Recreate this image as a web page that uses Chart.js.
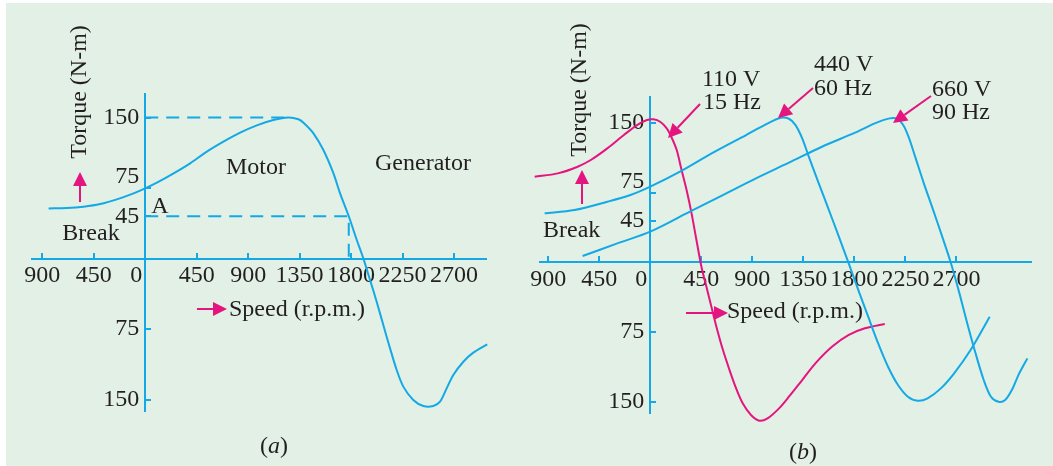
<!DOCTYPE html>
<html>
<head>
<meta charset="utf-8">
<title>Torque-speed curves</title>
<script src="https://cdn.jsdelivr.net/npm/chart.js@4.4.0/dist/chart.umd.min.js"></script>
<style>
    html, body { margin: 0; padding: 0; background: #ffffff; }
    #page { position: absolute; left: 6px; top: 3px; width: 1047px; height: 463px; background: #e2f0e5; }
    #chartA { position: absolute; left: 0; top: 0; }
    #chartB { position: absolute; left: 520px; top: 0; }
</style>
</head>
<body>
<div id="page"></div>
<canvas id="chartA" width="520" height="466"></canvas>
<canvas id="chartB" width="533" height="466"></canvas>
<script>
// Tick values (negative side shown as absolute values)
const xTicks = [-900, -450, 0, 450, 900, 1350, 1800, 2250, 2700];
const yTicks = [-150, -75, 45, 75, 150];

// (a) single torque-speed curve
const speedA = [-845, -685, -539, -393, -248, -102, 0, 102, 248, 393, 539, 684, 830, 976, 1121, 1250, 1340, 1384, 1471, 1558, 1646, 1704, 1780, 1850, 1908, 1966, 2024, 2082, 2141, 2199, 2257, 2344, 2432, 2519, 2578, 2636, 2694, 2782, 2869, 2991];
const torqueA = [53.4, 53.8, 55.2, 58, 63, 69.4, 74.7, 80.7, 90.6, 101.3, 113.7, 124.3, 133.9, 141.7, 147.3, 150, 148.1, 144.5, 133.2, 115.4, 90.6, 69.4, 45, 19.8, 0, -22.7, -45.8, -70.6, -95.4, -118.4, -136.1, -150.3, -156.7, -156.7, -152.1, -137.9, -123.7, -109.6, -100, -91.1];

// dashed guide lines in (a)
const peakSpeed = [0, 1250];
const peakTorque = [150, 150];
const pointASpeed = [0, 1780, 1780];
const pointATorque = [45, 45, 0];

// (b) 110 V / 15 Hz
const speed110 = [-1020, -816, -641, -525, -379, -233, -117, -29, 29, 87, 145, 189, 233, 276, 320, 364, 407, 451, 495, 539, 583, 641, 699, 757, 815, 888, 961, 1034, 1136, 1223, 1340, 1456, 1602, 1747, 1893, 2068];
const torque110 = [92.2, 95.8, 103, 110.2, 122.7, 137.1, 147.8, 153.2, 154, 151.4, 144.3, 134.2, 120.9, 99.4, 77.9, 52.8, 24.1, -4.6, -26.1, -47.6, -69.1, -94.3, -115.8, -135.5, -151.6, -164.2, -170.3, -167.8, -157, -144.5, -126.5, -108.6, -90.7, -78.1, -70.9, -66.3];

// (b) 440 V / 60 Hz
const speed440 = [-932, -670, -379, -175, 0, 262, 553, 845, 1019, 1150, 1223, 1281, 1340, 1398, 1485, 1573, 1660, 1747, 1835, 1922, 2010, 2097, 2185, 2272, 2359, 2446, 2563, 2680, 2825, 2994];
const torque440 = [52.8, 56.4, 65.3, 72.5, 81.5, 97.6, 118.1, 137.1, 148.6, 155.7, 154.6, 147.8, 133.5, 113.8, 85.4, 57.1, 28.8, 0, -29.7, -58.4, -87.1, -112.2, -131.9, -144.5, -148.8, -146.2, -135.5, -119.3, -94.3, -58.4];

// (b) 660 V / 90 Hz
const speed660 = [-597, -291, 0, 349, 640, 932, 1223, 1514, 1806, 1980, 2111, 2178, 2231, 2283, 2336, 2412, 2493, 2572, 2650, 2727, 2796, 2869, 2941, 3005, 3072, 3130, 3189, 3247, 3326];
const torque660 = [6.9, 20.5, 33.1, 54.6, 72.5, 90.5, 107.3, 124.5, 139.6, 149.6, 155, 154.6, 147.8, 133.5, 113.8, 85.4, 57.1, 28.8, 0, -33.3, -65.6, -97.8, -126.5, -144.5, -149.9, -148, -137.3, -121.2, -103.2];

const BLUE = '#14a9e6';
const PINK = '#e5157f';
const INK = '#231f20';
const SERIF = '"Liberation Serif", "DejaVu Serif", serif';
const FONT_SIZE = 24;

function toPoints(xs, ys) {
    return xs.map((x, i) => ({ x: x, y: ys[i] }));
}

function curve(xs, ys, color) {
    return {
        data: toPoints(xs, ys),
        borderColor: color,
        borderWidth: 2,
        pointRadius: 0,
        fill: false,
        tension: 0.3,
        clip: false
    };
}

function dashed(xs, ys) {
    return {
        data: toPoints(xs, ys),
        borderColor: BLUE,
        borderWidth: 2,
        borderDash: [13, 8],
        pointRadius: 0,
        fill: false,
        tension: 0,
        clip: false
    };
}

// "0" sits a little left of the vertical axis in the original
function xTickLabel(v) {
    if (v === 0) return '0   ';
    return String(Math.abs(v));
}

// trailing space keeps the label clear of the axis line;
// the upper 75 sits a bit above its tick, so it gets an empty second line
function yTickLabel(v) {
    const s = String(Math.abs(v)) + ' ';
    return v === 75 ? [s, ''] : s;
}

function makeScales(xMin, xMax, yMin, yMax) {
    return {
        x: {
            type: 'linear',
            min: xMin,
            max: xMax,
            position: { y: 0 },
            border: { color: BLUE, width: 2 },
            grid: { drawOnChartArea: false, color: BLUE, lineWidth: 2, tickLength: -7 },
            afterBuildTicks: (scale) => { scale.ticks = xTicks.map(v => ({ value: v })); },
            ticks: {
                autoSkip: false, maxRotation: 0, padding: 10,
                color: INK, font: { family: SERIF, size: FONT_SIZE },
                callback: xTickLabel
            }
        },
        y: {
            type: 'linear',
            min: yMin,
            max: yMax,
            position: { x: 0 },
            border: { color: BLUE, width: 2 },
            grid: { drawOnChartArea: false, color: BLUE, lineWidth: 2, tickLength: -7 },
            afterBuildTicks: (scale) => { scale.ticks = yTicks.map(v => ({ value: v })); },
            ticks: {
                autoSkip: false,
                color: INK, font: { family: SERIF, size: FONT_SIZE, lineHeight: 0.95 },
                callback: yTickLabel
            }
        }
    };
}

// helpers for the annotation layer
function txt(ctx, s, x, y, align) {
    ctx.textAlign = align || 'left';
    ctx.fillText(s, x, y);
}

function arrow(ctx, x1, y1, x2, y2) {
    const a = Math.atan2(y2 - y1, x2 - x1);
    const len = 14, half = 7;
    const bx = x2 - len * Math.cos(a), by = y2 - len * Math.sin(a);
    ctx.strokeStyle = PINK;
    ctx.fillStyle = PINK;
    ctx.lineWidth = 2;
    ctx.beginPath();
    ctx.moveTo(x1, y1);
    ctx.lineTo(bx, by);
    ctx.stroke();
    ctx.beginPath();
    ctx.moveTo(x2, y2);
    ctx.lineTo(bx + half * Math.sin(a), by - half * Math.cos(a));
    ctx.lineTo(bx - half * Math.sin(a), by + half * Math.cos(a));
    ctx.closePath();
    ctx.fill();
}

function caption(ctx, letter, cx, cy) {
    const plain = FONT_SIZE + 'px ' + SERIF;
    const italic = 'italic ' + plain;
    ctx.textBaseline = 'middle';
    ctx.textAlign = 'left';
    ctx.font = plain;
    const wOpen = ctx.measureText('(').width;
    ctx.font = italic;
    const wLetter = ctx.measureText(letter).width;
    const x = cx - (wOpen * 2 + wLetter) / 2;
    ctx.font = plain;
    ctx.fillText('(', x, cy);
    ctx.font = italic;
    ctx.fillText(letter, x + wOpen, cy);
    ctx.font = plain;
    ctx.fillText(')', x + wOpen + wLetter, cy);
}

function torqueTitle(ctx, x, y) {
    ctx.save();
    ctx.translate(x, y);
    ctx.rotate(-Math.PI / 2);
    ctx.textAlign = 'center';
    ctx.textBaseline = 'middle';
    ctx.fillText('Torque (N-m)', 0, 0);
    ctx.restore();
}

const notesA = {
    id: 'notesA',
    afterDraw(chart) {
        const ctx = chart.ctx;
        ctx.save();
        ctx.fillStyle = INK;
        ctx.font = FONT_SIZE + 'px ' + SERIF;
        ctx.textBaseline = 'middle';
        torqueTitle(ctx, 80, 92);
        txt(ctx, 'Motor', 256, 168, 'center');
        txt(ctx, 'Generator', 423, 164, 'center');
        txt(ctx, 'A', 160, 207, 'center');
        txt(ctx, 'Break', 91, 234, 'center');
        txt(ctx, 'Speed (r.p.m.)', 229, 310, 'left');
        arrow(ctx, 80, 202, 80, 172);
        arrow(ctx, 197, 309, 227, 309);
        ctx.fillStyle = INK;
        caption(ctx, 'a', 274, 447);
        ctx.restore();
    }
};

const notesB = {
    id: 'notesB',
    afterDraw(chart) {
        const ctx = chart.ctx;
        ctx.save();
        ctx.fillStyle = INK;
        ctx.font = FONT_SIZE + 'px ' + SERIF;
        ctx.textBaseline = 'middle';
        torqueTitle(ctx, 60, 90);
        txt(ctx, 'Break', 23, 231, 'left');
        txt(ctx, 'Speed (r.p.m.)', 207, 312, 'left');
        txt(ctx, '110 V', 182, 80, 'left');
        txt(ctx, '15 Hz', 183, 103, 'left');
        txt(ctx, '440 V', 294, 65, 'left');
        txt(ctx, '60 Hz', 294, 89, 'left');
        txt(ctx, '660 V', 412, 90, 'left');
        txt(ctx, '90 Hz', 412, 113, 'left');
        arrow(ctx, 62, 204, 62, 170);
        arrow(ctx, 166, 313, 208, 313);
        arrow(ctx, 180, 104, 148, 138);
        arrow(ctx, 293, 88, 258, 118);
        arrow(ctx, 411, 96, 373, 123);
        ctx.fillStyle = INK;
        caption(ctx, 'b', 283, 453);
        ctx.restore();
    }
};

const baseOptions = {
    responsive: false,
    animation: false,
    events: [],
    plugins: { legend: { display: false }, tooltip: { enabled: false } }
};

new Chart(document.getElementById('chartA').getContext('2d'), {
    type: 'line',
    data: {
        datasets: [
            dashed(peakSpeed, peakTorque),
            dashed(pointASpeed, pointATorque),
            curve(speedA, torqueA, BLUE)
        ]
    },
    options: Object.assign({}, baseOptions, {
        layout: { padding: { left: 32, right: 34, top: 94, bottom: 55 } },
        scales: makeScales(-990, 2980, -162, 175)
    }),
    plugins: [notesA]
});

new Chart(document.getElementById('chartB').getContext('2d'), {
    type: 'line',
    data: {
        datasets: [
            curve(speed440, torque440, BLUE),
            curve(speed660, torque660, BLUE),
            curve(speed110, torque110, PINK)
        ]
    },
    options: Object.assign({}, baseOptions, {
        layout: { padding: { left: 15, right: 22, top: 97, bottom: 53 } },
        scales: makeScales(-976, 3358, -162, 178)
    }),
    plugins: [notesB]
});
</script>
</body>
</html>
